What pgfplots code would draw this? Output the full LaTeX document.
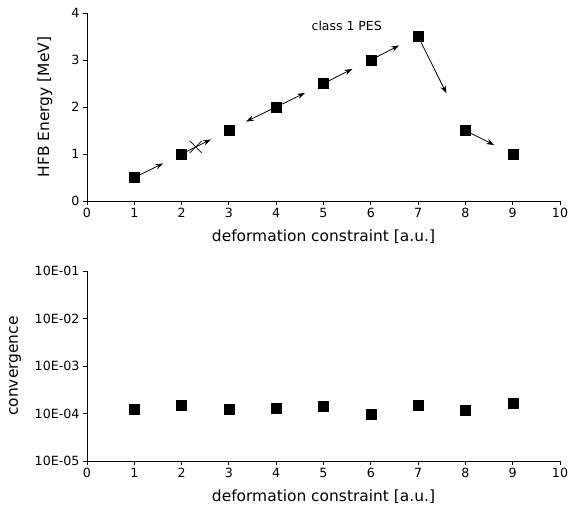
\documentclass[border=0pt]{standalone}
\usepackage{fontspec}
\setmainfont{DejaVu Sans}
\usepackage{pgfplots}
\pgfplotsset{compat=1.18}
\usetikzlibrary{arrows.meta}
\begin{document}
\begin{tikzpicture}
\pgfplotsset{
  common/.style={
    scale only axis, width=473bp,
    axis lines*=left,
    tick align=outside,
    axis line style={line width=0.9pt},
    every tick/.style={line width=0.9pt, black},
    major tick length=4bp,
    xmin=0, xmax=10, xtick={0,...,10},
    tick label style={font=\fontsize{12.7}{14}\selectfont},
    label style={font=\fontsize{15.5}{17}\selectfont},
    /pgf/number format/assume math mode=true,
    xlabel={deformation constraint [a.u.]},
    xlabel style={at={(axis description cs:0.5,0)}, anchor=north, yshift=-25bp},
    clip=false,
  },
  pt/.style={only marks, mark=square*, mark size=5bp, black},
  arr/.style={black, line width=0.8pt, -{Stealth[length=8pt,width=5.5pt]}, shorten <=5bp},
}
\begin{axis}[common, height=188bp, ymin=0, ymax=4, ytick={0,1,2,3,4},
  ylabel={HFB Energy [MeV]},
  ylabel style={at={(axis description cs:-0.089,0.5)}, anchor=center, inner sep=0pt}]
\addplot[pt] coordinates {(1,0.5)(2,1)(3,1.5)(4,2)(5,2.5)(6,3)(7,3.5)(8,1.5)(9,1)};
\addplot[arr] coordinates {(1,0.5)(1.61,0.80)};
\addplot[arr] coordinates {(2,1)(2.62,1.31)};
\addplot[arr] coordinates {(4,2)(3.36,1.69)};
\addplot[arr] coordinates {(4,2)(4.61,2.30)};
\addplot[arr] coordinates {(5,2.5)(5.61,2.81)};
\addplot[arr] coordinates {(6,3)(6.60,3.31)};
\addplot[arr] coordinates {(7,3.5)(7.60,2.29)};
\addplot[arr] coordinates {(8,1.5)(8.61,1.19)};
\addplot[only marks, mark=x, mark size=8.5bp, black, mark options={line width=0.7pt}] coordinates {(2.3,1.15)};
\node[font=\fontsize{12.5}{14}\selectfont] at (axis cs:5.49,3.72) {class 1 PES};
\end{axis}
\begin{axis}[common, at={(0,-260bp)}, height=190bp, ymode=log, ymin=1e-5, ymax=1e-1,
  ytick={1e-5,1e-4,1e-3,1e-2,1e-1},
  yticklabels={10E-05,10E-04,10E-03,10E-02,10E-01},
  yminorticks=false,
  ylabel={convergence},
  ylabel style={at={(axis description cs:-0.152,0.5)}, anchor=center, inner sep=0pt}]
\addplot[pt] coordinates {(1,1.23e-4)(2,1.5e-4)(3,1.23e-4)(4,1.31e-4)(5,1.45e-4)(6,0.98e-4)(7,1.52e-4)(8,1.19e-4)(9,1.67e-4)};
\end{axis}
\pgfresetboundingbox
\path[use as bounding box] (-87bp,201bp) rectangle (482bp,-304bp);
\end{tikzpicture}
\end{document}
